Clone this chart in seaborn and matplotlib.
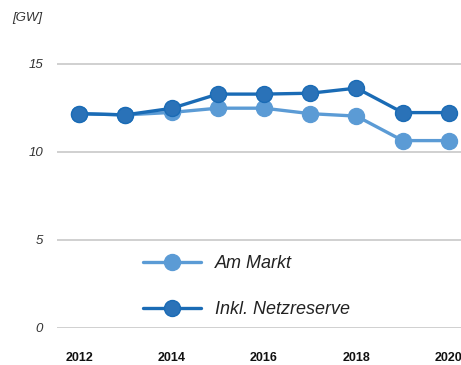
import matplotlib
matplotlib.use("Agg")
import matplotlib.pyplot as plt
import seaborn as sns
import pandas as pd

years = [2012, 2013, 2014, 2015, 2016, 2017, 2018, 2019, 2020]
am_markt = [12.17, 12.10, 12.24, 12.48, 12.48, 12.17, 12.03, 10.64, 10.64]
inkl_netzreserve = [12.17, 12.10, 12.47, 13.28, 13.28, 13.33, 13.62, 12.23, 12.23]
series_names = ["Am Markt", "Inkl. Netzreserve"]
y_ticks = [0, 5, 10, 15]
x_ticks = [2012, 2014, 2016, 2018, 2020]
unit_label = "[GW]"

df = pd.DataFrame({
    "Jahr": years * 2,
    "Wert": am_markt + inkl_netzreserve,
    "Serie": [series_names[0]] * len(years) + [series_names[1]] * len(years),
})

sns.set_theme(style="white")
plt.rcParams['font.family'] = ['Liberation Sans', 'DejaVu Sans']

fig = plt.figure(figsize=(4.61, 3.65), dpi=100)
ax = fig.add_axes([57/461, (365-328)/365, 1 - 57/461, (328-55)/365])

colors = {"Am Markt": "#5b9bd5", "Inkl. Netzreserve": "#2a72b8"}
line_colors = {"Am Markt": "#5b9bd5", "Inkl. Netzreserve": "#1a6bb5"}

for name in series_names:
    sub = df[df["Serie"] == name]
    sns.lineplot(data=sub, x="Jahr", y="Wert", ax=ax, color=line_colors[name],
                 linewidth=2.4, marker="o", markersize=11.5,
                 markerfacecolor=colors[name], markeredgecolor=line_colors[name],
                 markeredgewidth=1.0, label=name, zorder=3)

ax.set_xlim(2011.524, 2020.26)
ax.set_ylim(0, 15.5)
ax.set_yticks(y_ticks)
ax.set_xticks(x_ticks)
ax.set_xlabel("")
ax.set_ylabel("")
ax.grid(axis="y", color="#c8c8c8", linewidth=1.2)
ax.grid(axis="x", visible=False)
for s in ax.spines.values():
    s.set_visible(False)
ax.tick_params(axis="y", length=0, pad=10, labelsize=9.5, labelcolor="#333333")
ax.tick_params(axis="x", length=0, pad=17.5, labelsize=9, labelcolor="#111111")
for lab in ax.get_yticklabels():
    lab.set_fontstyle("italic")
for lab in ax.get_xticklabels():
    lab.set_fontweight("bold")

fig.text(12/461, 1 - 18/365, unit_label, fontsize=9.5, fontstyle="italic",
         color="#333333", va="center", ha="left")

leg = ax.legend(loc="upper left", bbox_to_anchor=(127/461, 1 - 239/365),
                bbox_transform=fig.transFigure, frameon=False,
                handlelength=3.2, handletextpad=0.75, labelspacing=1.6,
                prop={"size": 13, "style": "italic"})
for t in leg.get_texts():
    t.set_color("#222222")

fig.savefig("out.png", dpi=100)
